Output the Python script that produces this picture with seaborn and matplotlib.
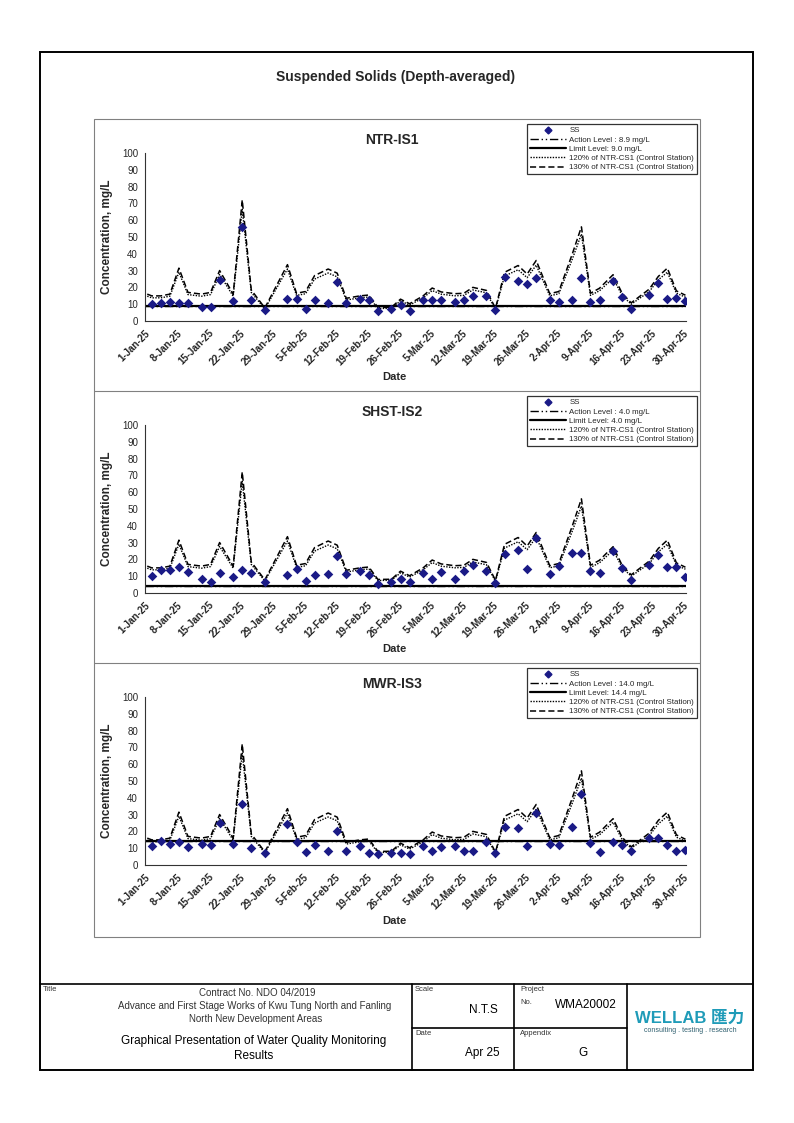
import pandas as pd
import seaborn as sns
import matplotlib.pyplot as plt
from matplotlib.lines import Line2D
from matplotlib.patches import Rectangle

# monitoring dates (Mon / Wed / Fri)
sample_dates = ['2025-01-02', '2025-01-04', '2025-01-06', '2025-01-08', '2025-01-10',
                '2025-01-13', '2025-01-15', '2025-01-17', '2025-01-20', '2025-01-22',
                '2025-01-24', '2025-01-27', '2025-02-01', '2025-02-03', '2025-02-05',
                '2025-02-07', '2025-02-10', '2025-02-12', '2025-02-14', '2025-02-17',
                '2025-02-19', '2025-02-21', '2025-02-24', '2025-02-26', '2025-02-28',
                '2025-03-03', '2025-03-05', '2025-03-07', '2025-03-10', '2025-03-12',
                '2025-03-14', '2025-03-17', '2025-03-19', '2025-03-21', '2025-03-24',
                '2025-03-26', '2025-03-28', '2025-03-31', '2025-04-02', '2025-04-05',
                '2025-04-07', '2025-04-09', '2025-04-11', '2025-04-14', '2025-04-16',
                '2025-04-18', '2025-04-22', '2025-04-24', '2025-04-26', '2025-04-28',
                '2025-04-30']
control_dates = ['2025-01-01'] + sample_dates

# NTR-CS1 control station, mg/L
ntr_cs1 = [12.3, 11.5, 11.5, 12.3, 24.2, 13.1, 12.3, 13.1, 23.1, 12.3, 55.4, 14.2, 6.0,
           25.8, 12.7, 13.5, 20.8, 23.8, 21.9, 10.4, 11.5, 11.9, 6.2, 6.3, 10.0, 7.9,
           11.5, 15.1, 13.3, 12.5, 12.7, 15.4, 14.0, 5.8, 22.3, 25.4, 21.5, 27.7, 12.5,
           13.5, 30.8, 43.1, 12.7, 15.0, 21.2, 12.7, 8.3, 14.6, 20.4, 24.2, 13.8, 11.8]

# SS at impact stations, mg/L
ss_ntr_is1 = [10.4, 10.8, 11.4, 10.8, 11.0, 8.4, 8.2, 24.7, 11.8, 56.0, 12.5, 6.4,
              13.3, 13.3, 7.4, 12.5, 10.8, 23.3, 10.6, 13.1, 12.5, 6.0, 7.4, 9.4, 6.2,
              12.5, 12.5, 12.5, 11.6, 12.4, 15.0, 15.0, 6.8, 25.9, 24.1, 21.9, 25.7,
              12.4, 11.6, 12.4, 25.5, 11.6, 12.4, 24.1, 14.5, 7.0, 15.7, 22.9, 13.1,
              13.7, 12.0]
ss_shst_is2 = [10.3, 13.7, 13.9, 15.5, 12.7, 8.2, 6.6, 11.7, 9.7, 13.7, 11.7, 6.4,
               10.7, 14.1, 7.0, 10.7, 11.1, 22.3, 11.1, 13.3, 10.7, 5.6, 6.8, 8.2, 6.6,
               11.9, 8.2, 12.7, 8.2, 12.9, 16.7, 13.3, 6.2, 23.3, 25.4, 14.5, 32.6,
               11.1, 16.1, 23.7, 23.7, 13.1, 12.1, 24.9, 15.1, 8.0, 16.5, 22.5, 15.7,
               15.7, 9.5]
ss_mwr_is3 = [11.5, 14.1, 12.7, 13.9, 10.9, 12.7, 11.7, 25.0, 12.3, 36.4, 9.9, 7.4,
              24.5, 13.5, 7.6, 11.9, 8.3, 20.5, 8.2, 11.5, 7.4, 6.6, 7.2, 7.4, 6.8,
              11.3, 8.3, 10.7, 11.5, 8.2, 8.2, 13.7, 7.2, 22.5, 21.9, 11.5, 30.8,
              12.3, 12.1, 22.5, 42.5, 13.3, 8.0, 13.5, 12.1, 8.5, 16.1, 15.9, 11.9,
              8.2, 8.9]

stations = ['NTR-IS1', 'SHST-IS2', 'MWR-IS3']
station_ss = [ss_ntr_is1, ss_shst_is2, ss_mwr_is3]
action_levels = [8.9, 4.0, 14.0]
limit_levels = [9.0, 4.0, 14.4]

W, H = 794, 1123
NAVY = '#1a1a86'
DOTTED = (0, (1, 1))
DASHED = (0, (4, 2))
DASHDOT = (0, (6, 2, 1, 2, 1, 2))


def fx(x):
	return x / W


def fy(y):
	return 1 - y / H


def fig_line(fig, x0, y0, x1, y1, color='black', lw=1.0):
	fig.add_artist(Line2D([fx(x0), fx(x1)], [fy(y0), fy(y1)], transform=fig.transFigure, color=color, lw=lw))


def plot_station(fig, top, name, ss, action, limit):
	ax = fig.add_axes([fx(145), fy(top + 202), fx(686) - fx(145), 168 / H])
	half_day = pd.Timedelta(hours=12)

	ss_df = pd.DataFrame({'date': pd.to_datetime(sample_dates) + half_day, 'ss': ss})
	cs_df = pd.DataFrame({'date': pd.to_datetime(control_dates) + half_day, 'cs': ntr_cs1})
	cs_df['p120'] = cs_df['cs'] * 1.2
	cs_df['p130'] = cs_df['cs'] * 1.3

	sns.lineplot(data=cs_df, x='date', y='p120', ax=ax, color='black', lw=1.0, linestyle=DOTTED)
	sns.lineplot(data=cs_df, x='date', y='p130', ax=ax, color='black', lw=1.1, linestyle=DASHED)
	ax.axhline(limit, color='black', lw=1.6)
	ax.axhline(action, color='black', lw=1.0, linestyle=DASHDOT)
	sns.scatterplot(data=ss_df, x='date', y='ss', ax=ax, marker='D', s=24, color=NAVY,
	                edgecolor=NAVY, linewidth=0, zorder=5)

	# axes
	ax.set_ylim(0, 100)
	ax.set_yticks(range(0, 101, 10))
	ax.set_yticklabels([str(v) for v in range(0, 101, 10)], fontsize=7)
	ax.set_xlim(pd.Timestamp('2025-01-01'), pd.Timestamp('2025-04-30 15:00'))
	tick_dates = pd.date_range('2025-01-01', '2025-04-30', freq='7D')
	ax.set_xticks(tick_dates)
	ax.set_xticklabels([f'{d.day}-{d:%b-%y}' for d in tick_dates], rotation=45, ha='right',
	                   rotation_mode='anchor', fontsize=7, fontweight='bold')
	ax.set(xlabel='', ylabel='')
	for side in ['top', 'right']:
		ax.spines[side].set_visible(False)
	for side in ['left', 'bottom']:
		ax.spines[side].set_color('#333333')
		ax.spines[side].set_linewidth(0.8)
	ax.tick_params(direction='out', length=3, width=0.8, color='#333333', pad=2)
	ax.patch.set_alpha(0)

	# labels
	fig.text(fx(392), fy(top + 21), name, ha='center', va='center', fontsize=10, fontweight='bold')
	fig.text(fx(107), fy(top + 118), 'Concentration, mg/L', rotation=90, ha='center', va='center',
	         fontsize=8.5, fontweight='bold')
	fig.text(fx(394), fy(top + 258), 'Date', ha='center', va='center', fontsize=8, fontweight='bold')

	# legend
	handles = [
		Line2D([], [], marker='D', color=NAVY, linestyle='none', markersize=3.5),
		Line2D([], [], color='black', lw=1.0, linestyle=DASHDOT),
		Line2D([], [], color='black', lw=1.6),
		Line2D([], [], color='black', lw=1.0, linestyle=DOTTED),
		Line2D([], [], color='black', lw=1.1, linestyle=DASHED),
	]
	labels = ['SS', f'Action Level : {action:.1f} mg/L', f'Limit Level: {limit:.1f} mg/L',
	          '120% of NTR-CS1 (Control Station)', '130% of NTR-CS1 (Control Station)']
	leg = ax.legend(handles, labels, loc='upper right', bbox_to_anchor=(fx(697), fy(top + 5)),
	                bbox_transform=fig.transFigure, fontsize=5.7, frameon=True, fancybox=False,
	                handlelength=4.6, handletextpad=0.4, labelspacing=0.22, borderpad=0.35,
	                borderaxespad=0)
	leg.get_frame().set_edgecolor('black')
	leg.get_frame().set_linewidth(0.9)
	return ax


sns.set_style('white')
plt.rcParams['font.family'] = ['Liberation Sans', 'DejaVu Sans']

fig = plt.figure(figsize=(W / 100, H / 100), dpi=100)

# page border
fig.add_artist(Rectangle((fx(40), fy(1070)), fx(753) - fx(40), (1070 - 52) / H,
                         transform=fig.transFigure, fill=False, ec='black', lw=1.4))
fig.text(fx(396), fy(77), 'Suspended Solids (Depth-averaged)', ha='center', va='center',
         fontsize=10, fontweight='bold')

# chart frames
fig.add_artist(Rectangle((fx(93.5), fy(937)), fx(699.5) - fx(93.5), (937 - 119) / H,
                         transform=fig.transFigure, fill=False, ec='#808080', lw=0.8))
fig_line(fig, 93.5, 391, 699.5, 391, color='#808080', lw=0.8)
fig_line(fig, 93.5, 663, 699.5, 663, color='#808080', lw=0.8)

panel_tops = [119, 391, 663]
for top, name, ss, action, limit in zip(panel_tops, stations, station_ss, action_levels, limit_levels):
	plot_station(fig, top, name, ss, action, limit)

# title block
fig_line(fig, 40, 984, 753, 984, lw=1.2)
for x in [412, 514, 627]:
	fig_line(fig, x, 984, x, 1070, lw=1.2)
fig_line(fig, 412, 1028, 627, 1028, lw=1.2)

small = dict(fontsize=5.5, color='#333333', ha='left', va='top')
fig.text(fx(43), fy(986), 'Title', **small)
fig.text(fx(415), fy(986), 'Scale', **small)
fig.text(fx(415), fy(1030), 'Date', **small)
fig.text(fx(520), fy(986), 'Project', **small)
fig.text(fx(520), fy(999), 'No.', **small)
fig.text(fx(520), fy(1030), 'Appendix', **small)

mid = dict(fontsize=7, color='#333333', ha='center', va='center')
fig.text(fx(257), fy(993), 'Contract No. NDO 04/2019', **mid)
fig.text(fx(255), fy(1006), 'Advance and First Stage Works of Kwu Tung North and Fanling', **mid)
fig.text(fx(256), fy(1019), 'North New Development Areas', **mid)

big = dict(fontsize=8.5, color='black', ha='center', va='center')
fig.text(fx(254), fy(1041), 'Graphical Presentation of Water Quality Monitoring', **big)
fig.text(fx(254), fy(1056), 'Results', **big)
fig.text(fx(483), fy(1010), 'N.T.S', **big)
fig.text(fx(586), fy(1005), 'WMA20002', **big)
fig.text(fx(482), fy(1053), 'Apr 25', **big)
fig.text(fx(583), fy(1053), 'G', **big)

# logo
fig.text(fx(690), fy(1018), 'WELLAB 匯力', ha='center', va='center', fontsize=12, fontweight='bold',
         color='#1f9bb8', family=['Liberation Sans', 'Noto Sans CJK TC'])
fig.text(fx(690), fy(1030), 'consulting . testing . research', ha='center', va='center', fontsize=5,
         color='#2f5f6f')

fig.savefig('out.png', dpi=100)
